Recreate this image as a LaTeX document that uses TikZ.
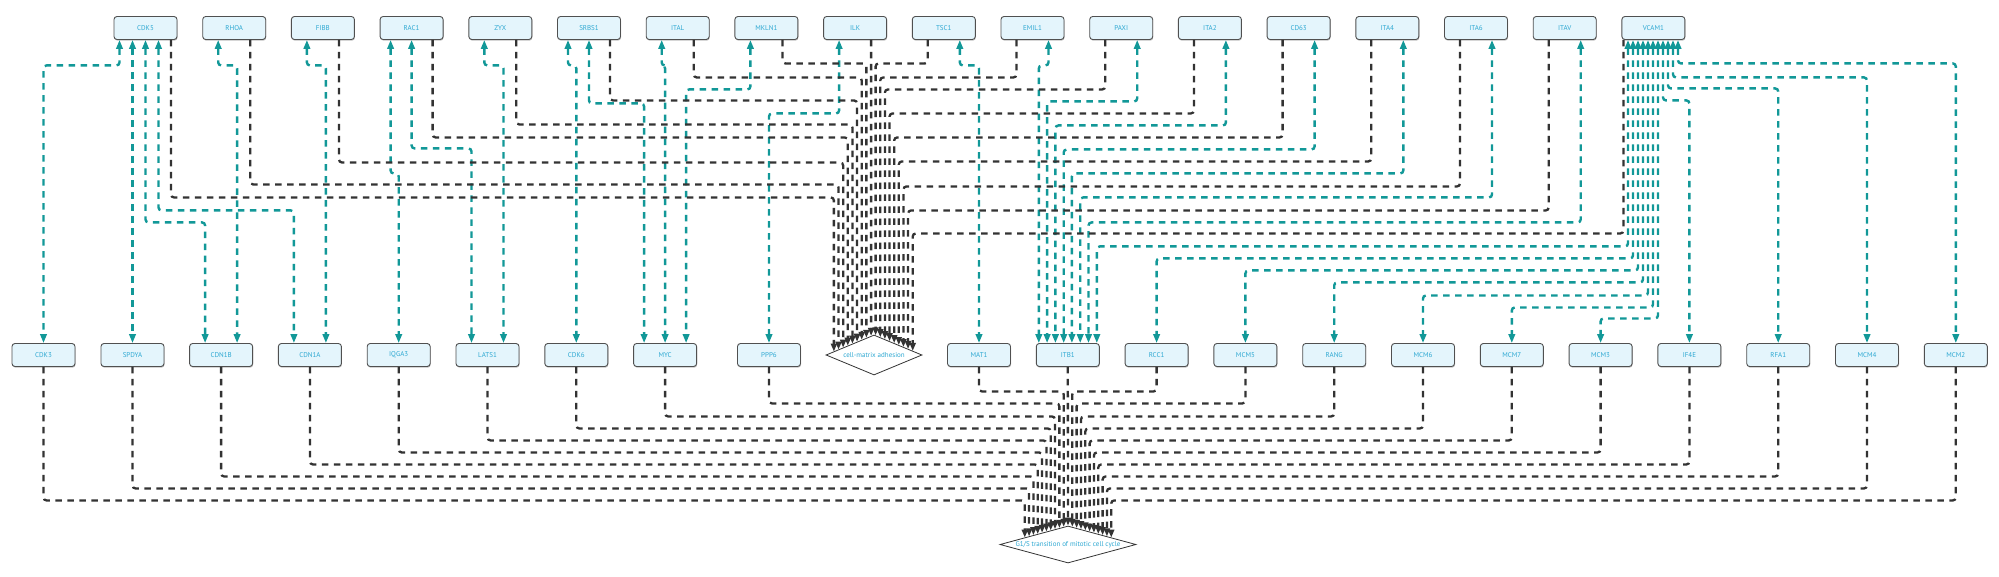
\documentclass[tikz,border=0pt]{standalone}
\usepackage{fontspec}
\setmainfont{PT Sans}
\usetikzlibrary{arrows.meta,calc,shapes.geometric,shadows}
\definecolor{tealc}{RGB}{18,152,152}
\definecolor{blkc}{RGB}{51,51,51}
\definecolor{boxfill}{RGB}{228,245,252}
\definecolor{txtc}{RGB}{45,168,210}
\definecolor{boxline}{RGB}{80,80,80}
\tikzset{
  gene/.style={draw=boxline, line width=0.9pt, fill=boxfill, rounded corners=3pt,
    minimum width=63pt, minimum height=23pt, inner sep=0pt, text=txtc,
    font=\fontsize{7}{8}\selectfont,
    drop shadow={shadow xshift=0.5pt, shadow yshift=-1.2pt, opacity=0.35, fill=black!70}},
  proc/.style={draw=blkc, line width=0.8pt, fill=white, diamond, inner sep=0pt,
    text=txtc, font=\fontsize{7}{8}\selectfont},
  ppi/.style={draw=tealc, line width=2.4pt, dash pattern=on 6.5pt off 5.5pt, rounded corners=3pt,
    {Triangle[length=9pt,width=6.5pt]}-{Triangle[length=9pt,width=6.5pt]}},
  reg/.style={draw=blkc, line width=2.3pt, dash pattern=on 6.5pt off 5.5pt, rounded corners=3pt,
    -{Triangle[length=8pt,width=6pt]}}
}
\begin{document}
\begin{tikzpicture}[x=1pt,y=-1pt]
\fill[white] (0,0) rectangle (1999,577);
\useasboundingbox (0,0) rectangle (1999,577);
% top row
\foreach \n/\l [count=\i from 0] in {cdk5/CDK5,rhoa/RHOA,fibb/FIBB,rac1/RAC1,zyx/ZYX,srbs1/SRBS1,ital/ITAL,mkln1/MKLN1,ilk/ILK,tsc1/TSC1,emil1/EMIL1,paxi/PAXI,ita2/ITA2,cd63/CD63,ita4/ITA4,ita6/ITA6,itav/ITAV,vcam1/VCAM1}
  \node[gene] (\n) at ({145.5+88.7*\i},28) {\l};
% bottom row
\foreach \n/\l/\x in {cdk3/CDK3/43.5,spdya/SPDYA/132.5,cdn1b/CDN1B/221.1,cdn1a/CDN1A/309.9,iqga3/IQGA3/398.7,lats1/LATS1/487.5,cdk6/CDK6/576.3,myc/MYC/665.1,ppp6/PPP6/769,mat1/MAT1/979,itb1/ITB1/1067.8,rcc1/RCC1/1156.6,mcm5/MCM5/1245.4,rang/RANG/1334.2,mcm6/MCM6/1423,mcm7/MCM7/1511.8,mcm3/MCM3/1600.6,if4e/IF4E/1689.4,rfa1/RFA1/1778.2,mcm4/MCM4/1867,mcm2/MCM2/1955.8}
  \node[gene] (\n) at (\x,355) {\l};
% process diamonds
\node[proc, minimum width=96pt, minimum height=40pt] (cma) at (874,355) {\makebox[0pt]{cell-matrix adhesion}};
\node[proc, minimum width=136pt, minimum height=37pt] (g1s) at (1068,544.5) {\makebox[0pt]{G1/S transition of mitotic cell cycle}};

% teal protein interactions
\draw[ppi] ([xshift=-13pt]cdk5.south) -- (spdya.north);
\foreach \s/\a/\d/\e/\b in {cdk5/-26/25.5/cdk3/0, cdk5/0/182.5/cdn1b/-16, cdk5/13/170.5/cdn1a/-16,
  rhoa/-16/25.5/cdn1b/16, fibb/-16/25.5/cdn1a/16, rac1/-21/133.5/iqga3/0, rac1/0/108.5/lats1/-16,
  zyx/-16/25.5/lats1/16, srbs1/-21/25.5/cdk6/0, srbs1/0/63.5/myc/-21, ital/-16/25.5/myc/0,
  mkln1/-16/49.5/myc/21, ilk/-16/73.5/ppp6/0, tsc1/16/25.5/mat1/0,
  emil1/16/25.5/itb1/-29, paxi/16/61.5/itb1/-20.7, ita2/16/85.5/itb1/-12.4, cd63/16/109.5/itb1/-4.1,
  ita4/16/133.5/itb1/4.1, ita6/16/157.5/itb1/12.4, itav/16/182.5/itb1/20.7,
  vcam1/-25.4/206.5/itb1/29, vcam1/-20.4/218.5/rcc1/0, vcam1/-15.4/230.5/mcm5/0,
  vcam1/-10.4/242.5/rang/0, vcam1/-5.4/255.5/mcm6/0, vcam1/-0.4/267.5/mcm7/0,
  vcam1/4.6/278.5/mcm3/0, vcam1/9.6/60.5/if4e/0, vcam1/14.6/48.5/rfa1/0,
  vcam1/19.6/37.5/mcm4/0, vcam1/24.6/23.5/mcm2/0}
  \draw[ppi] ([xshift=\a pt]\s.south) -- ++(0,\d) -| ([xshift=\b pt]\e.north);

% black edges into cell-matrix adhesion
\foreach \s/\a/\d/\t in {cdk5/25.5/157.5/0.171, rhoa/16/144.5/0.267, fibb/16/122.5/0.3625,
  rac1/21/97.5/0.458, zyx/16/84.5/0.554, srbs1/21/60.5/0.65, ital/16/37.5/0.746, mkln1/16/23.5/0.842}
  \draw[reg] ([xshift=\a pt]\s.south) -- ++(0,\d) -| ($(cma.west)!\t!(cma.north)$);
\draw[reg] ([xshift=16pt]ilk.south) -- ($(cma.west)!0.94!(cma.north)$);
\foreach \s/\a/\d/\t in {tsc1/-16/23.5/0.967, emil1/-16/37.5/0.871, paxi/-16/49.5/0.775,
  ita2/-16/73.5/0.679, cd63/-16/97.5/0.583, ita4/-16/121.5/0.4875, ita6/-16/146.5/0.392,
  itav/-16/170.5/0.296, vcam1/-30/193.5/0.2}
  \draw[reg] ([xshift=\a pt]\s.south) -- ++(0,\d) -| ($(cma.east)!\t!(cma.north)$);

% black edges into G1/S transition
\foreach \s/\d/\t in {mat1/24.5/0.937, ppp6/36.5/0.874, myc/49.5/0.810, cdk6/61.5/0.747,
  lats1/73.5/0.684, iqga3/85.5/0.621, cdn1a/97.5/0.557, cdn1b/109.5/0.494, spdya/121.5/0.431, cdk3/133.5/0.368}
  \draw[reg] (\s.south) -- ++(0,\d) -| ($(g1s.west)!\t!(g1s.north)$);
\draw[reg] (itb1.south) -- (g1s.north);
\foreach \s/\d/\t in {rcc1/24.5/0.937, mcm5/36.5/0.874, rang/49.5/0.810, mcm6/61.5/0.747,
  mcm7/73.5/0.684, mcm3/85.5/0.621, if4e/97.5/0.557, rfa1/109.5/0.494, mcm4/121.5/0.431, mcm2/133.5/0.368}
  \draw[reg] (\s.south) -- ++(0,\d) -| ($(g1s.east)!\t!(g1s.north)$);
\end{tikzpicture}
\end{document}
